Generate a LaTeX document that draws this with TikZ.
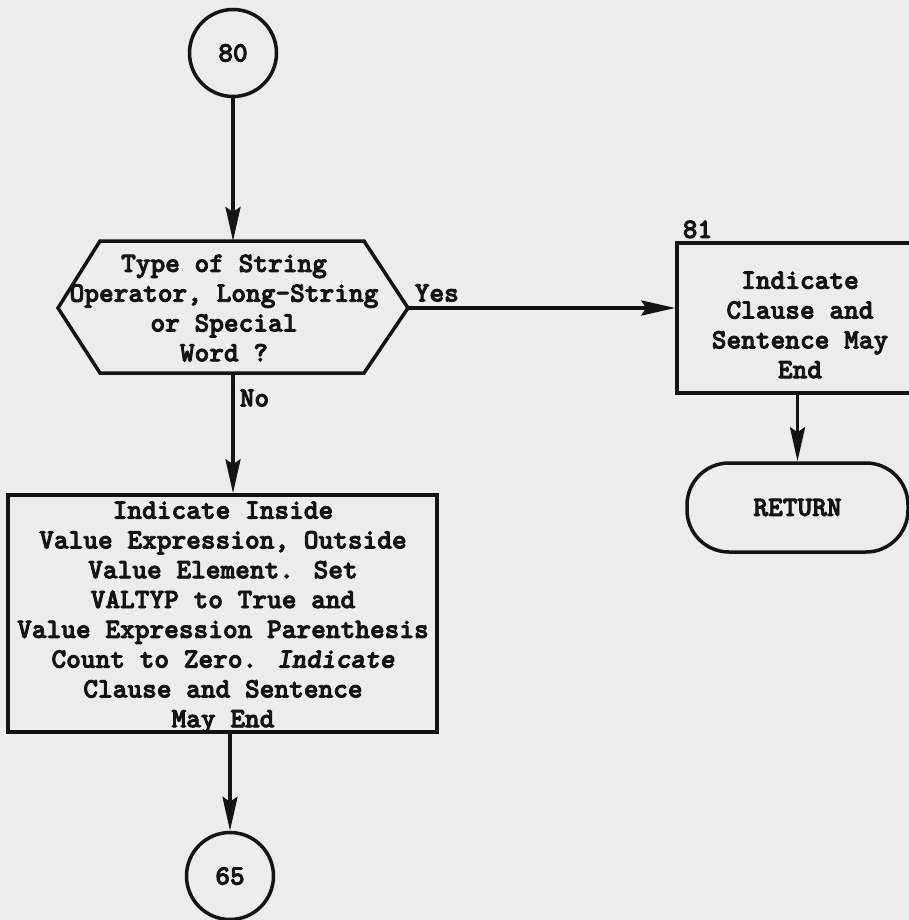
\documentclass[tikz,border=0pt]{standalone}
\usepackage{fontspec}
\newfontfamily\tw{lmmonolt10-bold.otf}[FakeBold=3, ItalicFont=lmmonolt10-boldoblique.otf, ItalicFeatures={FakeBold=3}]
\usetikzlibrary{arrows.meta,calc}
\definecolor{paper}{RGB}{236,236,236}
\definecolor{ink}{RGB}{20,20,20}
\begin{document}
\begin{tikzpicture}[x=1pt,y=-1pt, line width=3.5pt, draw=ink,
  txt/.style={font=\tw\fontsize{28}{29.8}\selectfont, align=center, inner sep=0pt, text=ink},
  conn/.style={circle, draw=ink, minimum size=87pt, inner sep=0pt, txt},
  boxshape/.style={draw=ink, rectangle, inner sep=0pt},
  arr/.style={draw=ink, -{Stealth[length=34pt,width=15pt,inset=5pt]}}]
\clip (0,0) rectangle (909,920);
\fill[paper] (0,0) rectangle (909,920);
% connector 80
\node[conn] (c80) at (233,53) {80};
% decision hexagon
\coordinate (hT) at (233,241);
\coordinate (hB) at (233,373);
\coordinate (hR) at (408,308);
\draw[line join=miter] (100,241) -- (364,241) -- (hR) -- (364,373) -- (100,373) -- (58,308) -- cycle;
\node[txt] (dect) at (224,308) {Type of String\\Operator, Long-String\\or Special\\Word ?};
% big process box
\node[boxshape, minimum width=429pt, minimum height=237pt] (big) at (222.5,613.5) {};
\node[txt] (bigt) at (223,617.5) {Indicate Inside\\Value Expression, Outside\\Value Element. Set\\VALTYP to True and\\Value Expression Parenthesis\\Count to Zero. {\itshape Indicate}\\Clause and Sentence\\May End};
% connector 65
\node[conn] (c65) at (230,876) {65};
% box 81
\node[boxshape, minimum width=246pt, minimum height=150pt] (b81) at (800,318) {};
\node[txt] (b81t) at (800,325) {Indicate\\Clause and\\Sentence May\\End};
\node[txt, anchor=south west] (n81) at (681,240) {81};
% return terminal
\node[draw=ink, rectangle, rounded corners=42pt, minimum width=221pt, minimum height=89pt, txt] (ret) at (797.5,507.5) {RETURN};
% labels
\node[txt, anchor=west] (yes) at (413,293) {Yes};
\node[txt, anchor=west] (no) at (238,398) {No};
% connectors
\draw[arr] (c80) -- (hT);
\draw[arr] (hB) -- (hB |- big.north);
\draw[arr] (big.south -| c65) -- (c65);
\draw[arr] (hR) -- (hR -| b81.west);
\draw[arr] (b81.south -| ret) -- (ret);
\end{tikzpicture}
\end{document}
